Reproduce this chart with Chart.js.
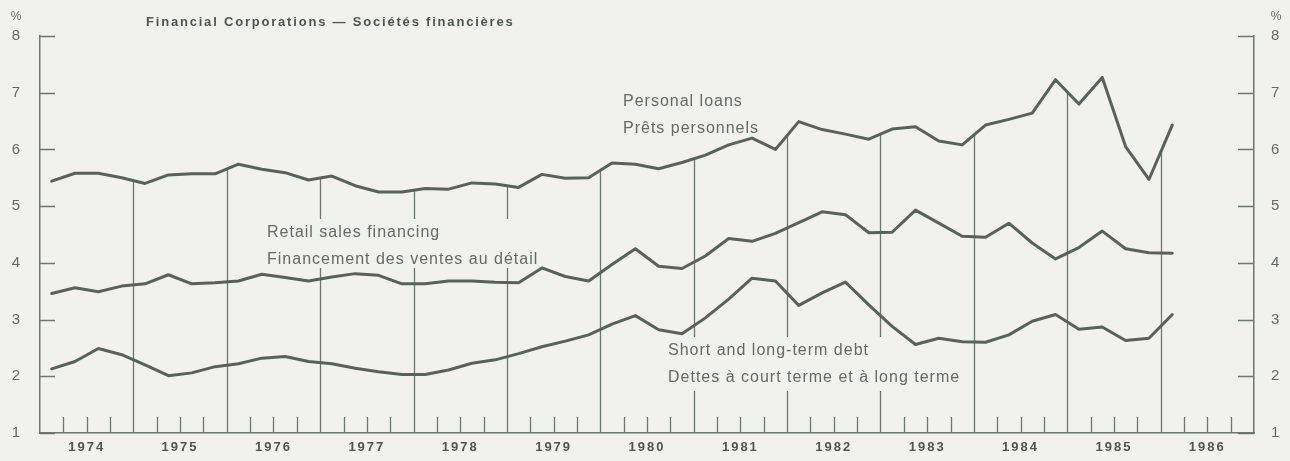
<!DOCTYPE html>
<html>
<head>
<meta charset="utf-8">
<script src="https://cdn.jsdelivr.net/npm/chart.js@4/dist/chart.umd.min.js"></script>
<style>
html,body{margin:0;padding:0;background:#f1f1ef;}
#wrap{width:1290px;height:461px;position:relative;}
canvas{display:block;}
</style>
</head>
<body>
<div id="wrap"><canvas id="c" width="1290" height="461"></canvas></div>
<script>
// ---- data (quarterly, 1974Q1 .. 1986Q1) ----
const startYear = 1974;
const yearLabels = ['1974','1975','1976','1977','1978','1979','1980','1981','1982','1983','1984','1985','1986'];
const yTickValues = [1, 2, 3, 4, 5, 6, 7, 8];

const personalLoans = [
  5.44, 5.58, 5.58, 5.50,
  5.40, 5.55, 5.57, 5.57,
  5.74, 5.65, 5.59, 5.46,
  5.53, 5.36, 5.25, 5.25,
  5.31, 5.30, 5.41, 5.39,
  5.33, 5.56, 5.49, 5.50,
  5.76, 5.74, 5.66, 5.77,
  5.90, 6.08, 6.20, 6.00,
  6.49, 6.35, 6.27, 6.18,
  6.36, 6.40, 6.15, 6.08,
  6.43, 6.53, 6.64, 7.23,
  6.80, 7.27, 6.05, 5.47,
  6.43
];
const retailSales = [
  3.46, 3.56, 3.49, 3.59,
  3.63, 3.79, 3.63, 3.65,
  3.68, 3.80, 3.74, 3.68,
  3.75, 3.81, 3.78, 3.63,
  3.63, 3.68, 3.68, 3.66,
  3.65, 3.91, 3.76, 3.68,
  3.97, 4.25, 3.94, 3.90,
  4.12, 4.43, 4.38, 4.52,
  4.71, 4.90, 4.85, 4.53,
  4.54, 4.93, 4.70, 4.47,
  4.45, 4.70, 4.35, 4.07,
  4.27, 4.56, 4.25, 4.18,
  4.17
];
const shortLongDebt = [
  2.13, 2.26, 2.49, 2.38,
  2.20, 2.01, 2.06, 2.17,
  2.22, 2.32, 2.35, 2.26,
  2.22, 2.14, 2.08, 2.03,
  2.03, 2.11, 2.23, 2.29,
  2.40, 2.52, 2.62, 2.73,
  2.92, 3.07, 2.82, 2.75,
  3.03, 3.36, 3.73, 3.68,
  3.25, 3.47, 3.66, 3.26,
  2.88, 2.56, 2.67, 2.61,
  2.60, 2.73, 2.97, 3.09,
  2.83, 2.87, 2.63, 2.67,
  3.09
];

// quarter mid-points as x positions
const qx = i => startYear + (i + 0.5) / 4;
const toPts = arr => arr.map((v, i) => ({ x: qx(i), y: v }));

const BG = '#f1f1ef';
const LINE = '#57625a';
const AXIS = '#6d7770';
const TXT = '#646b66';
const TXT_DARK = '#4f5651';
const FONT = '"Liberation Sans", Arial, Helvetica, sans-serif';

const annotations = [
  { lines: ['Personal loans', 'Prêts personnels'], x: 623, y: 106, box: [618, 88, 150, 52] },
  { lines: ['Retail sales financing', 'Financement des ventes au détail'], x: 267, y: 237, box: [262, 219, 284, 49] },
  { lines: ['Short and long-term debt', 'Dettes à court terme et à long terme'], x: 668, y: 355, box: [663, 337, 305, 54] }
];

function plAt(xv) {
  for (let i = 0; i < personalLoans.length - 1; i++) {
    const x0 = qx(i), x1 = qx(i + 1);
    if (xv >= x0 && xv <= x1) {
      const t = (xv - x0) / (x1 - x0);
      return personalLoans[i] + t * (personalLoans[i + 1] - personalLoans[i]);
    }
  }
  return personalLoans[personalLoans.length - 1];
}

const decor = {
  id: 'decor',
  beforeDraw(chart) {
    chart.ctx.letterSpacing = '2px';
  },
  beforeDatasetsDraw(chart) {
    const { ctx, scales: { x, y } } = chart;
    ctx.save();
    ctx.letterSpacing = '0px';
    ctx.strokeStyle = AXIS;
    // year boundary drop lines from the personal loans curve
    ctx.lineWidth = 1.3;
    for (let k = 1; k < yearLabels.length; k++) {
      const xv = startYear + k;
      const px = Math.round(x.getPixelForValue(xv)) + 0.5;
      const top = y.getPixelForValue(plAt(xv));
      ctx.beginPath();
      ctx.moveTo(px, top);
      ctx.lineTo(px, y.bottom);
      ctx.stroke();
    }
    // quarter ticks
    for (let k = 0; k < yearLabels.length; k++) {
      for (let q = 1; q < 4; q++) {
        const px = Math.round(x.getPixelForValue(startYear + k + q / 4)) + 0.5;
        ctx.beginPath();
        ctx.moveTo(px, y.bottom);
        ctx.lineTo(px, y.bottom - 16);
        ctx.stroke();
      }
    }
    // inward y ticks on both sides
    ctx.lineWidth = 1.5;
    yTickValues.forEach(v => {
      const py = Math.round(y.getPixelForValue(v)) + 0.5;
      ctx.beginPath();
      ctx.moveTo(x.left, py); ctx.lineTo(x.left + 15, py);
      ctx.moveTo(x.right - 16, py); ctx.lineTo(x.right, py);
      ctx.stroke();
    });
    // label boxes hide the grid lines
    ctx.fillStyle = BG;
    annotations.forEach(a => ctx.fillRect(a.box[0], a.box[1], a.box[2], a.box[3]));
    ctx.restore();
  },
  afterDatasetsDraw(chart) {
    const { ctx } = chart;
    ctx.save();
    ctx.textBaseline = 'alphabetic';
    ctx.textAlign = 'left';
    // annotations
    ctx.fillStyle = TXT;
    ctx.font = '16px ' + FONT;
    ctx.letterSpacing = '1px';
    annotations.forEach(a => {
      a.lines.forEach((t, i) => ctx.fillText(t, a.x, a.y + i * 27));
    });
    // title
    ctx.fillStyle = TXT_DARK;
    ctx.font = 'bold 13px ' + FONT;
    ctx.letterSpacing = '1.8px';
    ctx.fillText('Financial Corporations — Sociétés financières', 146, 26);
    // percent signs
    ctx.letterSpacing = '0px';
    ctx.font = '12px ' + FONT;
    ctx.fillStyle = TXT;
    ctx.textAlign = 'center';
    ctx.fillText('%', 16, 20);
    ctx.fillText('%', 1276, 20);
    ctx.restore();
  }
};

const common = {
  borderColor: LINE,
  borderWidth: 3,
  pointRadius: 0,
  tension: 0,
  fill: false,
  borderJoinStyle: 'round',
  borderCapStyle: 'round'
};

new Chart(document.getElementById('c'), {
  type: 'line',
  data: {
    datasets: [
      Object.assign({ label: 'Personal loans', data: toPts(personalLoans) }, common),
      Object.assign({ label: 'Retail sales financing', data: toPts(retailSales) }, common),
      Object.assign({ label: 'Short and long-term debt', data: toPts(shortLongDebt) }, common)
    ]
  },
  options: {
    responsive: false,
    devicePixelRatio: 1,
    animation: false,
    layout: { padding: { top: 36, right: 0, bottom: 0, left: 0 } },
    plugins: { legend: { display: false }, tooltip: { enabled: false } },
    scales: {
      x: {
        type: 'linear',
        position: 'bottom',
        min: startYear,
        max: startYear + yearLabels.length,
        grid: { display: false, drawTicks: false },
        border: { display: true, color: AXIS, width: 1.5 },
        afterBuildTicks: s => { s.ticks = yearLabels.map((l, i) => ({ value: startYear + i + 0.5 })); },
        afterFit: s => { s.height = 28; },
        ticks: {
          autoSkip: false,
          maxRotation: 0,
          padding: 7,
          color: TXT_DARK,
          font: { family: FONT, size: 13, weight: 'bold' },
          callback: v => yearLabels[Math.floor(v) - startYear]
        }
      },
      y: {
        position: 'left',
        min: 1, max: 8,
        grid: { display: false, drawTicks: false },
        border: { display: true, color: AXIS, width: 1.5 },
        afterFit: s => { s.width = 40; },
        afterBuildTicks: s => { s.ticks = yTickValues.map(v => ({ value: v })); },
        ticks: { padding: 18, color: TXT, font: { family: FONT, size: 15 } }
      },
      y2: {
        position: 'right',
        min: 1, max: 8,
        grid: { display: false, drawTicks: false },
        border: { display: true, color: AXIS, width: 1.5 },
        afterFit: s => { s.width = 36; },
        afterBuildTicks: s => { s.ticks = yTickValues.map(v => ({ value: v })); },
        ticks: { padding: 17, color: TXT, font: { family: FONT, size: 15 } }
      }
    }
  },
  plugins: [decor]
});
</script>
</body>
</html>
